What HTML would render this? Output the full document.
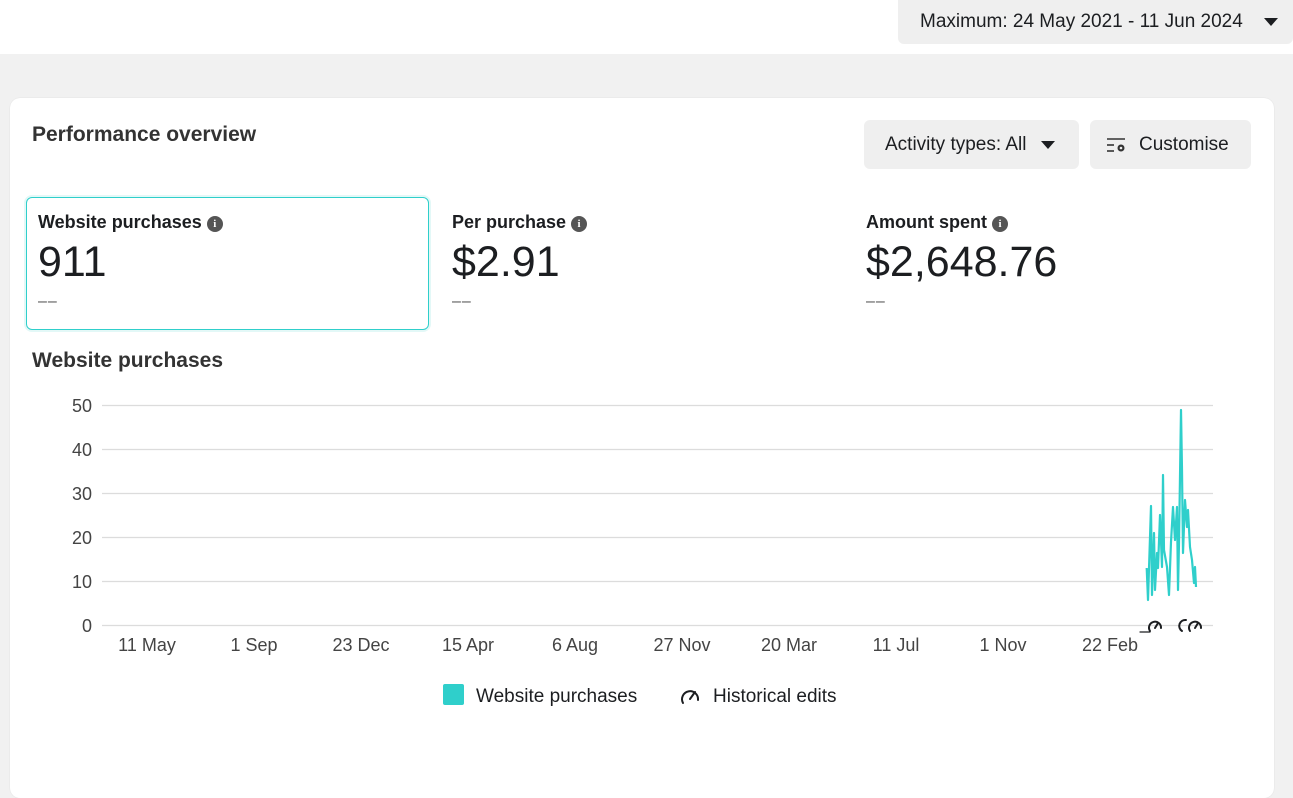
<!DOCTYPE html>
<html><head><meta charset="utf-8"><style>
*{margin:0;padding:0;box-sizing:border-box}
body{width:1293px;height:729px;overflow:hidden;background:#f1f1f1;font-family:"Liberation Sans",sans-serif;color:#1c1e21;position:relative}
.top{position:absolute;left:0;top:0;width:1293px;height:54px;background:#fff}
.btn{position:absolute;background:#efefef;border-radius:6px;font-size:19px;color:#1c1e21;display:flex;align-items:center}
.card{position:absolute;left:10px;top:98px;width:1264px;height:700px;background:#fff;border-radius:10px;box-shadow:0 0 1px rgba(0,0,0,.15)}
.abs{position:absolute;white-space:nowrap}
.lbl{font-size:18px;font-weight:bold;color:#1c1e21}
.big{font-size:43px;color:#1c1e21}
.dash{font-size:16px;color:#555;letter-spacing:1px}
.info{display:inline-block;width:16px;height:16px;border-radius:50%;background:#555;color:#fff;font-size:11px;text-align:center;line-height:16px;font-weight:bold;vertical-align:1px;margin-left:5px;font-family:"Liberation Serif",serif}
.tri{display:inline-block;width:0;height:0;border-left:7px solid transparent;border-right:7px solid transparent;border-top:8px solid #1c1e21}
</style></head><body>
<div class="top"></div>
<div class="btn" style="left:898px;top:0;width:395px;height:44px;border-radius:0 0 6px 6px;padding-left:22px">Maximum: 24 May 2021 - 11 Jun 2024<span class="tri" style="margin-left:21px"></span></div>
<div class="card"></div>
<div class="abs" style="left:32px;top:123px;font-size:21px;font-weight:bold;color:#333">Performance overview</div>
<div class="btn" style="left:864px;top:120px;width:215px;height:49px;padding-left:21px">Activity types: All<span class="tri" style="margin-left:14px"></span></div>
<div class="btn" style="left:1090px;top:120px;width:161px;height:49px;padding-left:16px">
<svg width="22" height="16" viewBox="0 0 22 16"><g stroke="#333" stroke-width="1.6"><line x1="1" y1="2" x2="19" y2="2"/><line x1="1" y1="8" x2="8" y2="8"/><line x1="1" y1="14" x2="8" y2="14"/></g><circle cx="15" cy="11" r="3.5" fill="#333"/><circle cx="15" cy="11" r="1.3" fill="#efefef"/></svg>
<span style="margin-left:11px">Customise</span></div>
<div class="abs" style="left:26px;top:197px;width:403px;height:133px;border:1px solid #2fcfcb;border-radius:6px;box-shadow:0 0 0 2px #e3f8f7"></div>
<div class="abs lbl" style="left:38px;top:212px">Website purchases<span class="info">i</span></div>
<div class="abs big" style="left:38px;top:238px">911</div>
<div class="abs dash" style="left:38px;top:293px">‒‒</div>
<div class="abs lbl" style="left:452px;top:212px">Per purchase<span class="info">i</span></div>
<div class="abs big" style="left:452px;top:238px">$2.91</div>
<div class="abs dash" style="left:452px;top:293px">‒‒</div>
<div class="abs lbl" style="left:866px;top:212px">Amount spent<span class="info">i</span></div>
<div class="abs big" style="left:866px;top:238px">$2,648.76</div>
<div class="abs dash" style="left:866px;top:293px">‒‒</div>
<div class="abs" style="left:32px;top:349px;font-size:21px;font-weight:bold;color:#333">Website purchases</div>
<svg class="abs" style="left:0;top:0" width="1293" height="729">
<g stroke="#dcdcdc" stroke-width="1.2">
<line x1="102" y1="405.5" x2="1213" y2="405.5"/><line x1="102" y1="449.5" x2="1213" y2="449.5"/><line x1="102" y1="493.5" x2="1213" y2="493.5"/><line x1="102" y1="537.5" x2="1213" y2="537.5"/><line x1="102" y1="581.5" x2="1213" y2="581.5"/><line x1="102" y1="625.5" x2="1213" y2="625.5"/></g>
<g font-family="Liberation Sans" font-size="18" fill="#444" text-anchor="end">
<text x="92" y="412">50</text><text x="92" y="456">40</text><text x="92" y="500">30</text><text x="92" y="544">20</text><text x="92" y="588">10</text><text x="92" y="632">0</text></g>
<g font-family="Liberation Sans" font-size="18" fill="#444" text-anchor="middle">
<text x="147" y="651">11 May</text><text x="254" y="651">1 Sep</text><text x="361" y="651">23 Dec</text><text x="468" y="651">15 Apr</text><text x="575" y="651">6 Aug</text><text x="682" y="651">27 Nov</text><text x="789" y="651">20 Mar</text><text x="896" y="651">11 Jul</text><text x="1003" y="651">1 Nov</text><text x="1110" y="651">22 Feb</text></g>
<polyline fill="none" stroke="#2fcfcb" stroke-width="2.2" stroke-linejoin="round" points="1146.7,568 1148,600 1151,506 1152,595 1154,533 1155,590 1157,553 1158,568 1160,515 1162,567 1163,475 1164,550 1167,567 1169,595 1171,542 1173,507 1175,540 1177,507 1178,590 1179,543 1181,410 1182,470 1183,553 1185,500 1187,527 1188,510 1190,547 1192,560 1194,583 1195,567 1196,587"/>
<g fill="none" stroke="#1c1e21" stroke-width="2" stroke-linecap="round">
<path d="M1150 631 A6 6 0 1 1 1161 628"/><line x1="1155" y1="628" x2="1158" y2="623"/><line x1="1140" y1="632" x2="1150" y2="632" stroke-width="1.2"/>
<path d="M1182 631 A6 6 0 0 1 1186 620"/>
<path d="M1190 631 A6 6 0 1 1 1201 628"/><line x1="1195" y1="628" x2="1198" y2="623"/>
<path d="M683 703 A8 8 0 1 1 698 700"/><line x1="690" y1="699" x2="695" y2="692"/></g>
<rect x="443" y="684" width="21" height="21" rx="2" fill="#2fcfcb"/>
<g font-family="Liberation Sans" font-size="19" fill="#1c1e21"><text x="476" y="702">Website purchases</text><text x="713" y="702">Historical edits</text></g>
</svg>
</body></html>
